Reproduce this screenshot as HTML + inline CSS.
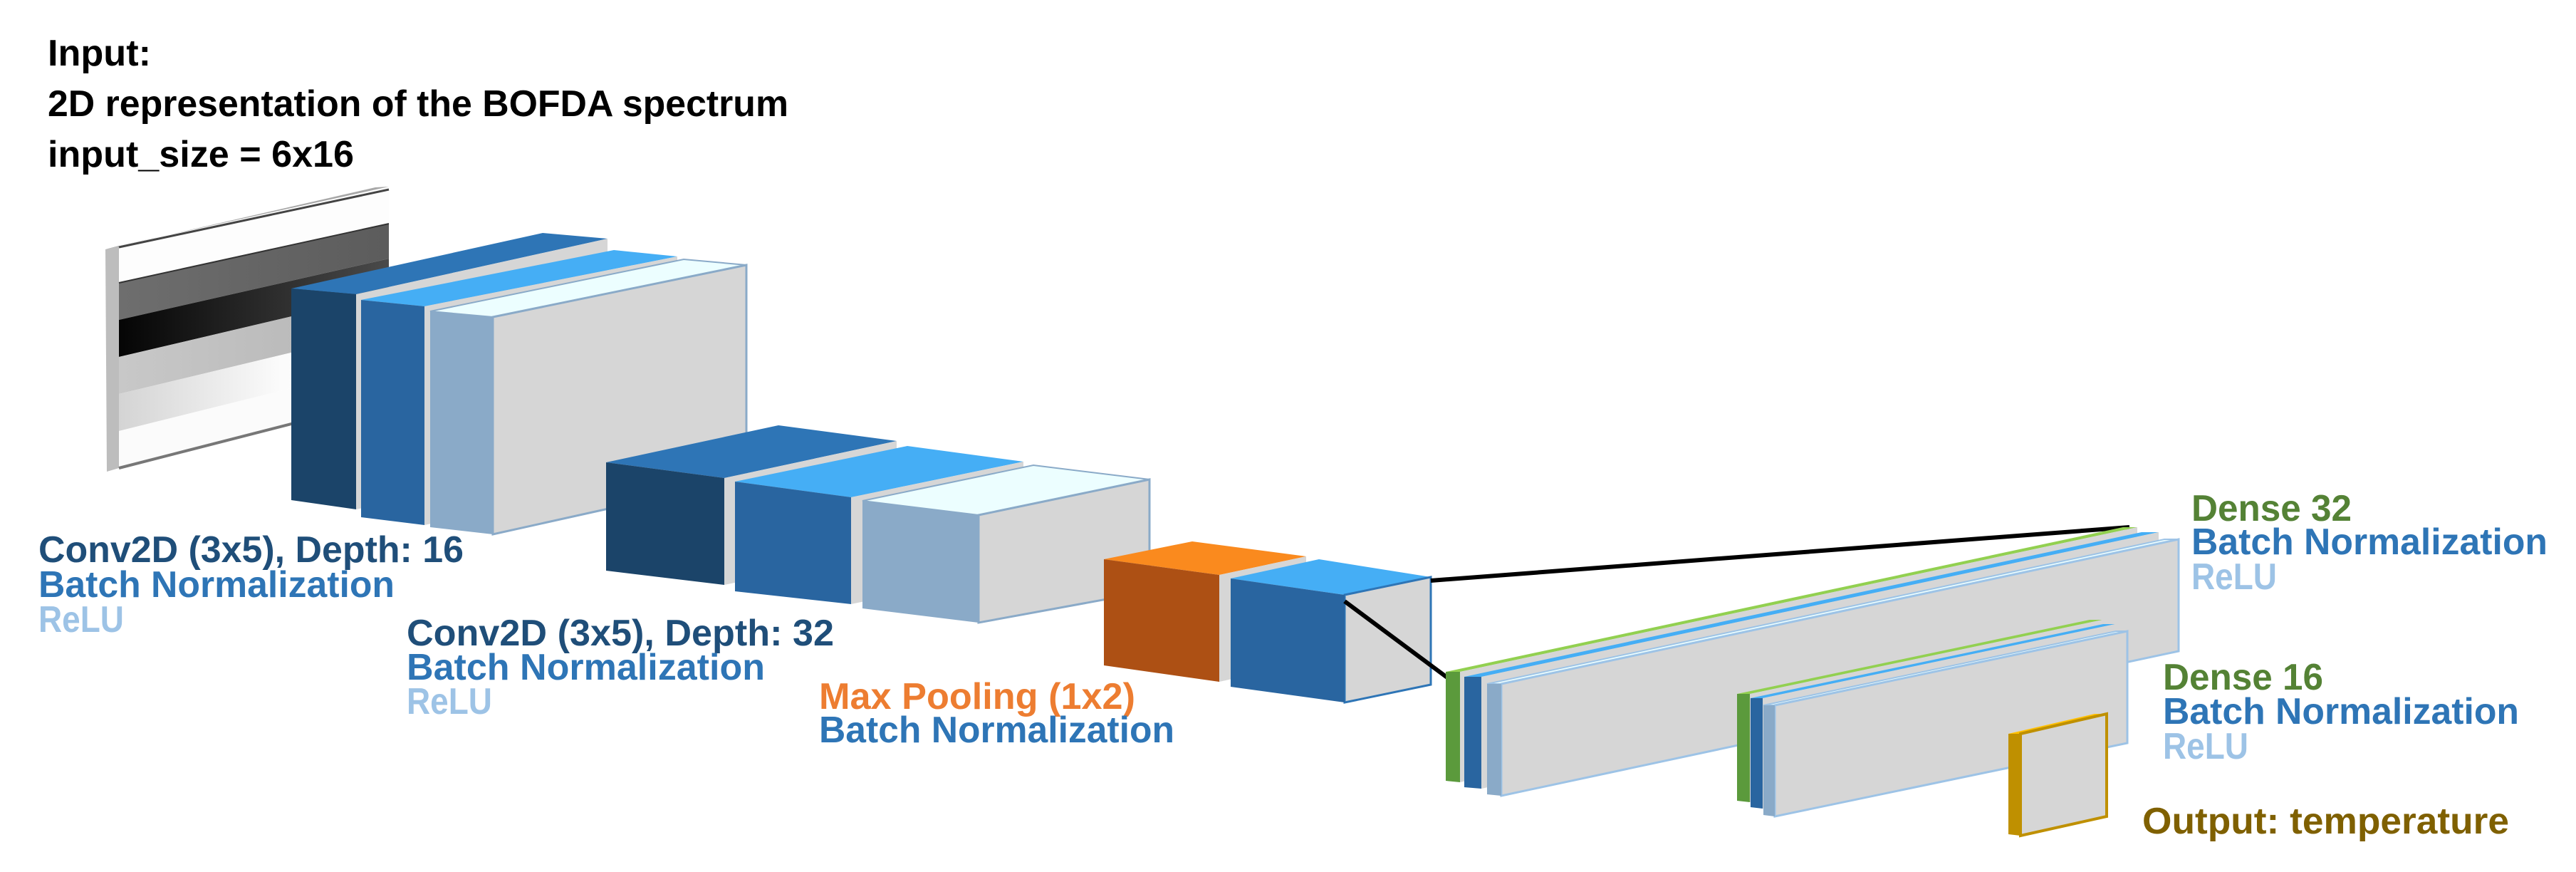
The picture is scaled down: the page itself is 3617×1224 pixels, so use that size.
<!DOCTYPE html>
<html><head><meta charset="utf-8"><style>
html,body{margin:0;padding:0;background:#fff;}
svg{display:block;}
text{font-family:"Liberation Sans",sans-serif;font-weight:bold;font-size:52px;}
</style></head><body>
<svg width="3617" height="1224" viewBox="0 0 3617 1224" xmlns="http://www.w3.org/2000/svg">
<rect width="3617" height="1224" fill="#fff"/>
<defs>
<linearGradient id="g2" x1="0" x2="1" y1="0" y2="0"><stop offset="0" stop-color="#6e6e6e"/><stop offset="1" stop-color="#5c5c5c"/></linearGradient>
<linearGradient id="g3" x1="0" x2="1" y1="0" y2="0"><stop offset="0" stop-color="#050505"/><stop offset="1" stop-color="#4a4a4a"/></linearGradient>
<linearGradient id="g4" x1="0" x2="1" y1="0" y2="0"><stop offset="0" stop-color="#c8c8c8"/><stop offset="1" stop-color="#b4b4b4"/></linearGradient>
<linearGradient id="g5" x1="0" x2="1" y1="0" y2="0"><stop offset="0" stop-color="#d4d4d4"/><stop offset="0.6" stop-color="#fbfbfb"/><stop offset="1" stop-color="#ffffff"/></linearGradient>
</defs>

<!-- Top text -->
<text x="67" y="92" fill="#000" textLength="145" lengthAdjust="spacingAndGlyphs">Input:</text>
<text x="67" y="163" fill="#000" textLength="1040" lengthAdjust="spacingAndGlyphs">2D representation of the BOFDA spectrum</text>
<text x="67" y="234" fill="#000" textLength="430" lengthAdjust="spacingAndGlyphs">input_size = 6x16</text>

<!-- Input plate -->
<polygon points="148,350 167,345 167,657 150,662" fill="#bdbdbd"/>
<polygon points="148,350 527,263 546,262 167,345" fill="#a8a8a8"/>
<polygon points="167,345 546,265 546,314 167,397" fill="#fdfdfd"/>
<polygon points="167,397 546,314 546,363 167,449" fill="url(#g2)"/>
<polygon points="167,449 546,363 546,412 167,501" fill="url(#g3)"/>
<polygon points="167,501 546,412 546,462 167,553" fill="url(#g4)"/>
<polygon points="167,553 546,462 546,511 167,605" fill="url(#g5)"/>
<polygon points="167,605 546,511 546,560 167,657" fill="#fbfbfb"/>
<line x1="167" y1="657" x2="546" y2="560" stroke="#777" stroke-width="4"/>
<line x1="167" y1="347" x2="546" y2="266" stroke="#444" stroke-width="3"/>
<line x1="167" y1="397" x2="546" y2="314" stroke="#333" stroke-width="2"/>

<!-- Group 1 -->
<!-- A -->
<polygon points="409,405 500,413 853,335 762,327" fill="#2e75b6"/>
<polygon points="500,413 853,335 853,640 500,715" fill="#d6d6d6"/>
<polygon points="409,405 500,413 500,715 409,702" fill="#1b4469"/>
<!-- B -->
<polygon points="507,421 596,430 951,360 862,351" fill="#45aef5"/>
<polygon points="596,430 951,360 951,660 596,737" fill="#d6d6d6"/>
<polygon points="507,421 596,430 596,737 507,726" fill="#2965a0"/>
<!-- C -->
<polygon points="604,437 692,445 1048,372 960,364" fill="#ecfeff" stroke="#8aaac8" stroke-width="2"/>
<polygon points="692,445 1048,372 1048,671 692,750" fill="#d6d6d6" stroke="#8aaac8" stroke-width="3"/>
<polygon points="604,437 692,445 692,750 604,740" fill="#8aaac8"/>

<!-- Group 2 -->
<polygon points="851,649 1017,671 1259,619 1093,597" fill="#2e75b6"/>
<polygon points="1017,671 1259,619 1259,770 1017,821" fill="#d6d6d6"/>
<polygon points="851,649 1017,671 1017,821 851,801" fill="#1b4469"/>

<polygon points="1032,676 1195,698 1437,648 1274,626" fill="#45aef5"/>
<polygon points="1195,698 1437,648 1437,798 1195,848" fill="#d6d6d6"/>
<polygon points="1032,676 1195,698 1195,848 1032,830" fill="#2965a0"/>

<polygon points="1211,703 1374,723 1614,673 1451,653" fill="#ecfeff" stroke="#8aaac8" stroke-width="2"/>
<polygon points="1374,723 1614,673 1614,830 1374,874" fill="#d6d6d6" stroke="#8aaac8" stroke-width="3"/>
<polygon points="1211,703 1374,723 1374,874 1211,854" fill="#8aaac8"/>

<!-- Group 3 -->
<polygon points="1550,785 1712,807 1834,781 1674,760" fill="#fa8a1e"/>
<polygon points="1712,807 1834,781 1834,930 1712,957" fill="#d6d6d6"/>
<polygon points="1550,785 1712,807 1712,957 1550,934" fill="#ad5014"/>

<polygon points="1728,812 1888,835 2009,810 1852,785" fill="#45aef5"/>
<polygon points="1888,835 2009,810 2009,961 1888,986" fill="#d6d6d6" stroke="#2e75b6" stroke-width="3"/>
<polygon points="1728,812 1888,835 1888,986 1728,964" fill="#2965a0"/>

<!-- connector lines -->
<line x1="2009" y1="815" x2="2990" y2="740" stroke="#000" stroke-width="6"/>
<line x1="1888" y1="844" x2="2032" y2="951" stroke="#000" stroke-width="6"/>

<!-- Dense 32 -->
<polygon points="2030,943 2050,943 3001,740 2981,740" fill="#92d050"/>
<polygon points="2050,943 3001,740 3001,895 2050,1098" fill="#d6d6d6"/>
<polygon points="2030,943 2050,943 2050,1098 2030,1096" fill="#5b9a3c"/>

<polygon points="2056,950 2080,950 3031,747 3007,747" fill="#45aef5"/>
<polygon points="2080,950 3031,747 3031,904 2080,1107" fill="#d6d6d6"/>
<polygon points="2056,950 2080,950 2080,1107 2056,1105" fill="#2965a0"/>

<polygon points="2088,960 2108,960 3059,757 3039,757" fill="#ecfeff" stroke="#9dc3e6" stroke-width="2"/>
<polygon points="2108,960 3059,757 3059,914 2108,1117" fill="#d6d6d6" stroke="#9dc3e6" stroke-width="3"/>
<polygon points="2088,960 2108,960 2108,1117 2088,1115" fill="#8aaac8"/>

<!-- Dense 16 -->
<polygon points="2439,974 2457,974 2952,870 2934,870" fill="#92d050"/>
<polygon points="2457,974 2952,870 2952,1022 2457,1126" fill="#d6d6d6"/>
<polygon points="2439,974 2457,974 2457,1126 2439,1124" fill="#5b9a3c"/>

<polygon points="2458,980 2475,980 2970,876 2953,876" fill="#45aef5"/>
<polygon points="2475,980 2970,876 2970,1031 2475,1135" fill="#d6d6d6"/>
<polygon points="2458,980 2475,980 2475,1135 2458,1133" fill="#2965a0"/>

<polygon points="2476,990 2492,990 2987,886 2971,886" fill="#ecfeff" stroke="#9dc3e6" stroke-width="2"/>
<polygon points="2492,990 2987,886 2987,1043 2492,1146" fill="#d6d6d6" stroke="#9dc3e6" stroke-width="3"/>
<polygon points="2476,990 2492,990 2492,1146 2476,1144" fill="#8aaac8"/>

<!-- Output -->
<polygon points="2820,1030 2837,1030 2958,1002 2941,1002" fill="#ffc000"/>
<polygon points="2837,1030 2958,1002 2958,1146 2837,1173" fill="#d6d6d6" stroke="#bf9000" stroke-width="4"/>
<polygon points="2820,1030 2837,1030 2837,1173 2820,1171" fill="#bf9000"/>

<!-- Labels -->
<text x="54" y="789" fill="#1f4e79" textLength="597" lengthAdjust="spacingAndGlyphs">Conv2D (3x5), Depth: 16</text>
<text x="54" y="838" fill="#2e75b6" textLength="500" lengthAdjust="spacingAndGlyphs">Batch Normalization</text>
<text x="54" y="887" fill="#9dc3e6" textLength="120" lengthAdjust="spacingAndGlyphs">ReLU</text>

<text x="571" y="906" fill="#1f4e79" textLength="600" lengthAdjust="spacingAndGlyphs">Conv2D (3x5), Depth: 32</text>
<text x="571" y="954" fill="#2e75b6" textLength="503" lengthAdjust="spacingAndGlyphs">Batch Normalization</text>
<text x="571" y="1002" fill="#9dc3e6" textLength="120" lengthAdjust="spacingAndGlyphs">ReLU</text>

<text x="1150" y="995" fill="#ed7d31" textLength="444" lengthAdjust="spacingAndGlyphs">Max Pooling (1x2)</text>
<text x="1150" y="1042" fill="#2e75b6" textLength="499" lengthAdjust="spacingAndGlyphs">Batch Normalization</text>

<text x="3077" y="731" fill="#548235" textLength="225" lengthAdjust="spacingAndGlyphs">Dense 32</text>
<text x="3077" y="778" fill="#2e75b6" textLength="500" lengthAdjust="spacingAndGlyphs">Batch Normalization</text>
<text x="3077" y="827" fill="#9dc3e6" textLength="120" lengthAdjust="spacingAndGlyphs">ReLU</text>

<text x="3037" y="968" fill="#548235" textLength="225" lengthAdjust="spacingAndGlyphs">Dense 16</text>
<text x="3037" y="1016" fill="#2e75b6" textLength="500" lengthAdjust="spacingAndGlyphs">Batch Normalization</text>
<text x="3037" y="1065" fill="#9dc3e6" textLength="120" lengthAdjust="spacingAndGlyphs">ReLU</text>

<text x="3008" y="1170" fill="#7f6000" textLength="515" lengthAdjust="spacingAndGlyphs">Output: temperature</text>
</svg>
</body></html>
